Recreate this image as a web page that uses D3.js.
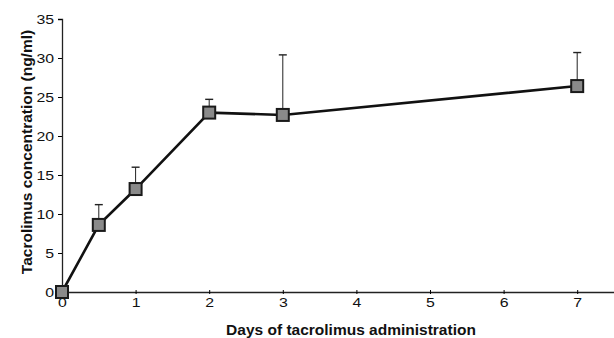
<!DOCTYPE html>
<html>
<head>
<meta charset="utf-8">
<script src="https://cdn.jsdelivr.net/npm/d3@7"></script>
<style>
  body { margin: 0; background: #fff; }
  text { font-family: "Liberation Sans", Arial, sans-serif; fill: #111; }
</style>
</head>
<body>
<div id="chart"></div>
<script>
// data
const days = [0, 0.5, 1, 2, 3, 7];
const conc = [0, 8.6, 13.2, 23.0, 22.7, 26.4];
const errTop = [0, 11.2, 16.0, 24.7, 30.4, 30.7];
const xTicks = [0, 1, 2, 3, 4, 5, 6, 7];
const yTicks = [0, 5, 10, 15, 20, 25, 30, 35];

const width = 614, height = 338;
const margin = { top: 19, right: 0, bottom: 46, left: 62 };

const svg = d3.select("#chart").append("svg")
  .attr("width", width)
  .attr("height", height);

const x = d3.scaleLinear().domain([0, 7.5]).range([margin.left, width - margin.right]);
const y = d3.scaleLinear().domain([0, 35]).range([height - margin.bottom, margin.top]);

// axes (tick digits in the scan are a bit wide, so stretch them)
const yAxis = svg.append("g")
  .attr("transform", `translate(${margin.left},0)`)
  .call(d3.axisLeft(y).tickValues(yTicks).tickSize(4).tickPadding(2.5));
yAxis.select(".domain").attr("stroke", "#222").attr("stroke-width", 1.3);
yAxis.selectAll("text").attr("font-size", 13).attr("transform", "scale(1.22,1)");

const xAxis = svg.append("g")
  .attr("transform", `translate(0,${height - margin.bottom})`)
  .call(d3.axisBottom(x).tickValues(xTicks).tickSize(3).tickPadding(3).tickSizeOuter(0));
xAxis.select(".domain").attr("stroke", "#222").attr("stroke-width", 1.3);
xAxis.selectAll(".tick line").attr("y1", -2).attr("y2", 2);
xAxis.selectAll("text").attr("font-size", 13).attr("transform", "scale(1.22,1)");

// axis titles
svg.append("text")
  .attr("transform", `translate(32,152) rotate(-90)`)
  .attr("text-anchor", "middle")
  .attr("font-size", 15.5)
  .attr("font-weight", "bold")
  .text("Tacrolimus concentration (ng/ml)");

svg.append("text")
  .attr("x", 351)
  .attr("y", 335)
  .attr("text-anchor", "middle")
  .attr("font-size", 15.5)
  .attr("font-weight", "bold")
  .text("Days of tacrolimus administration");

const pts = days.map((d, i) => ({ d, v: conc[i], e: errTop[i] }));

// error bars (upper only)
const eb = svg.append("g").attr("stroke", "#222").attr("stroke-width", 1);
eb.selectAll("line.stem").data(pts.filter(p => p.e > p.v))
  .join("line")
  .attr("class", "stem")
  .attr("x1", p => x(p.d)).attr("x2", p => x(p.d))
  .attr("y1", p => y(p.v)).attr("y2", p => y(p.e));
eb.selectAll("line.cap").data(pts.filter(p => p.e > p.v))
  .join("line")
  .attr("class", "cap")
  .attr("stroke-width", 1.4)
  .attr("x1", p => x(p.d) - 4).attr("x2", p => x(p.d) + 4)
  .attr("y1", p => y(p.e)).attr("y2", p => y(p.e));

// line
svg.append("path")
  .datum(pts)
  .attr("fill", "none")
  .attr("stroke", "#111")
  .attr("stroke-width", 2.6)
  .attr("d", d3.line().x(p => x(p.d)).y(p => y(p.v)));

// markers
const s = 12;
svg.selectAll("rect.mk").data(pts)
  .join("rect")
  .attr("class", "mk")
  .attr("x", p => x(p.d) - s / 2)
  .attr("y", p => y(p.v) - s / 2)
  .attr("width", s).attr("height", s)
  .attr("fill", "#8a8a8a")
  .attr("stroke", "#1a1a1a")
  .attr("stroke-width", 2);
</script>
</body>
</html>
